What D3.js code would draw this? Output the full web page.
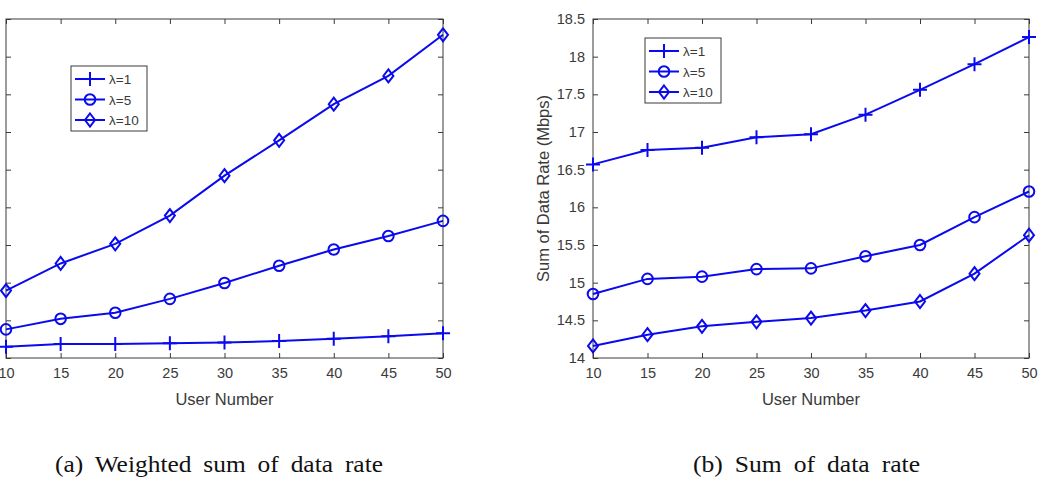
<!DOCTYPE html>
<html>
<head>
<meta charset="utf-8">
<script src="https://cdn.jsdelivr.net/npm/d3@7"></script>
<style>
  body { margin: 0; background: #fff; }
  svg { display: block; }
  .tick text { font-family: "Liberation Sans", Arial, sans-serif; }
</style>
</head>
<body>
<div id="chart"></div>
<script>
// data
var users = [10, 15, 20, 25, 30, 35, 40, 45, 50];
var seriesNames = ["λ=1", "λ=5", "λ=10"];

// (a) weighted sum, y labels are cut off in the source so units are ticks
var weightedLam1  = [0.30, 0.37, 0.37, 0.39, 0.41, 0.45, 0.51, 0.58, 0.66];
var weightedLam5  = [0.76, 1.04, 1.20, 1.57, 1.99, 2.45, 2.88, 3.24, 3.64];
var weightedLam10 = [1.79, 2.51, 3.03, 3.78, 4.84, 5.78, 6.74, 7.49, 8.58];
var weightedTicks = [0, 1, 2, 3, 4, 5, 6, 7, 8, 9];

// (b) sum of data rate (Mbps)
var sumLam1  = [16.57, 16.76, 16.79, 16.93, 16.97, 17.23, 17.56, 17.90, 18.26];
var sumLam5  = [14.85, 15.05, 15.08, 15.18, 15.19, 15.35, 15.50, 15.87, 16.21];
var sumLam10 = [14.16, 14.31, 14.42, 14.48, 14.53, 14.63, 14.75, 15.12, 15.63];
var sumTicks = [14, 14.5, 15, 15.5, 16, 16.5, 17, 17.5, 18, 18.5];

var captions = ["(a) Weighted sum of data rate", "(b) Sum of data rate"];

var W = 1042, H = 498;
var blue = "#0a0aee";
var axisColor = "#3a3a3a";

var svg = d3.select("#chart").append("svg")
	.attr("width", W)
	.attr("height", H);

// marker shapes, plus / circle / diamond
function drawMarker(g, kind) {
	if (kind == 0) {
		g.append("path").attr("d", "M-7,0H7M0,-7V7");
	} else if (kind == 1) {
		g.append("circle").attr("r", 5.3);
	} else {
		g.append("path").attr("d", "M0,-6.5L5,0L0,6.5L-5,0Z");
	}
}

function panel(p) {
	var g = svg.append("g");

	var x = d3.scaleLinear().domain([10, 50]).range([p.left, p.right]);
	var y = d3.scaleLinear().domain(p.yDomain).range([p.bottom, p.top]);

	// box
	g.append("rect")
		.attr("x", p.left).attr("y", p.top)
		.attr("width", p.right - p.left).attr("height", p.bottom - p.top)
		.attr("fill", "none").attr("stroke", axisColor).attr("stroke-width", 1);

	var xAxisCall = d3.axisBottom(x).tickValues(users).tickSize(-5).tickPadding(10)
		.tickFormat(d3.format("d"));
	var xTopCall = d3.axisTop(x).tickValues(users).tickSize(-5).tickFormat("");
	var yAxisCall = d3.axisLeft(y).tickValues(p.yTicks).tickSize(-5).tickPadding(8)
		.tickFormat(p.yFormat);
	var yRightCall = d3.axisRight(y).tickValues(p.yTicks).tickSize(-5).tickFormat("");

	g.append("g").attr("transform", "translate(0," + p.bottom + ")").call(xAxisCall);
	g.append("g").attr("transform", "translate(0," + p.top + ")").call(xTopCall);
	g.append("g").attr("transform", "translate(" + p.left + ",0)").call(yAxisCall);
	g.append("g").attr("transform", "translate(" + p.right + ",0)").call(yRightCall);

	g.selectAll(".domain").remove();
	g.selectAll(".tick line").attr("stroke", axisColor);
	g.selectAll(".tick text").attr("font-size", "14.5px").attr("fill", axisColor);

	// x label
	g.append("text")
		.attr("x", (p.left + p.right) / 2)
		.attr("y", p.bottom + 47)
		.attr("text-anchor", "middle")
		.attr("font-family", "Liberation Sans, Arial, sans-serif")
		.attr("font-size", "16.5px")
		.attr("fill", axisColor)
		.text("User Number");

	if (p.yLabel) {
		g.append("text")
			.attr("transform", "translate(" + (p.left - 44) + "," + ((p.top + p.bottom) / 2) + ") rotate(-90)")
			.attr("text-anchor", "middle")
			.attr("font-family", "Liberation Sans, Arial, sans-serif")
			.attr("font-size", "16.5px")
			.attr("fill", axisColor)
			.text(p.yLabel);
	}

	var line = d3.line()
		.x(function(d, i){ return x(users[i]); })
		.y(function(d){ return y(d); });

	p.series.forEach(function(s, k) {
		g.append("path")
			.datum(s)
			.attr("d", line)
			.attr("fill", "none")
			.attr("stroke", blue)
			.attr("stroke-width", 2);

		s.forEach(function(v, i) {
			var m = g.append("g")
				.attr("transform", "translate(" + x(users[i]) + "," + y(v) + ")")
				.attr("fill", "none")
				.attr("stroke", blue)
				.attr("stroke-width", 2);
			drawMarker(m, k);
		});
	});

	// legend
	var lg = g.append("g").attr("transform", "translate(" + p.legX + "," + p.legY + ")");
	lg.append("rect")
		.attr("width", 76).attr("height", 65)
		.attr("fill", "#fff").attr("stroke", axisColor).attr("stroke-width", 1);
	seriesNames.forEach(function(name, k) {
		var ry = 13 + k * 20.5;
		lg.append("line")
			.attr("x1", 4).attr("x2", 34).attr("y1", ry).attr("y2", ry)
			.attr("stroke", blue).attr("stroke-width", 2);
		var m = lg.append("g")
			.attr("transform", "translate(19," + ry + ")")
			.attr("fill", "none").attr("stroke", blue).attr("stroke-width", 2);
		drawMarker(m, k);
		lg.append("text")
			.attr("x", 38).attr("y", ry + 5)
			.attr("font-family", "Liberation Sans, Arial, sans-serif")
			.attr("font-size", "13.5px")
			.attr("fill", axisColor)
			.text(name);
	});

	// caption
	svg.append("text")
		.attr("x", p.capX).attr("y", 472)
		.attr("font-family", "Liberation Serif, Times New Roman, serif")
		.attr("font-size", "23px")
		.attr("fill", "#111")
		.style("word-spacing", "5px")
		.attr("textLength", p.capW)
		.attr("lengthAdjust", "spacingAndGlyphs")
		.text(p.caption);
}

panel({
	left: 6, right: 443, top: 19, bottom: 358,
	yDomain: [0, 9], yTicks: weightedTicks, yFormat: "",
	series: [weightedLam1, weightedLam5, weightedLam10],
	legX: 71, legY: 66,
	yLabel: null,
	caption: captions[0], capX: 55, capW: 328
});

panel({
	left: 593, right: 1029, top: 19, bottom: 358,
	yDomain: [14, 18.5], yTicks: sumTicks,
	yFormat: function(d){ return String(+d.toFixed(1)); },
	series: [sumLam1, sumLam5, sumLam10],
	legX: 645, legY: 38,
	yLabel: "Sum of Data Rate (Mbps)",
	caption: captions[1], capX: 693, capW: 227
});
</script>
</body>
</html>
